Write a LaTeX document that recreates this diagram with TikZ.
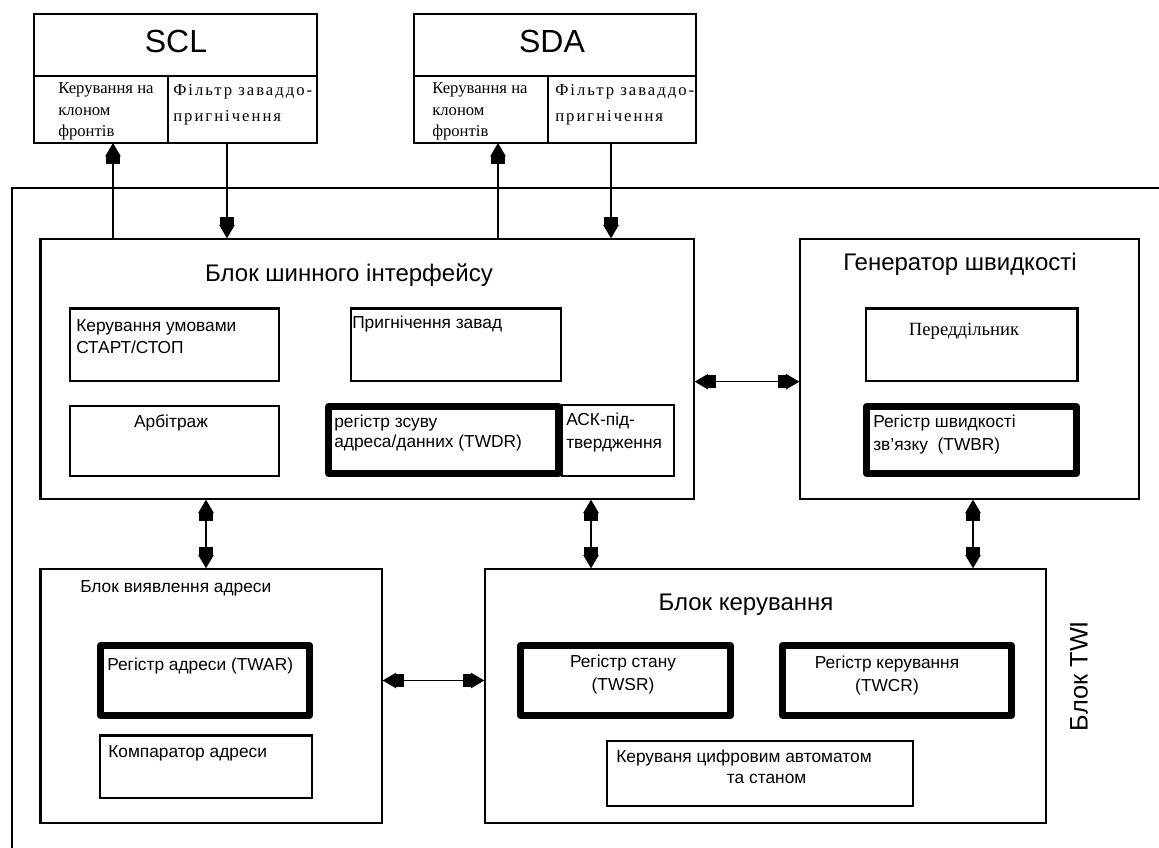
\documentclass[tikz,border=0pt]{standalone}
\usepackage{fontspec}
\setmainfont{Liberation Sans}
\newfontfamily\cellfont{Liberation Serif}
\newfontfamily\cellfontwide[LetterSpace=12]{Liberation Serif}
\usetikzlibrary{arrows.meta}

\newcommand{\pinfont}{\fontsize{24}{28}\selectfont}
\newcommand{\titlefont}{\fontsize{18}{21}\selectfont}
\newcommand{\smallfont}{\fontsize{13}{16.5}\selectfont}

\tikzset{
  box/.style 2 args={shape=rectangle, draw=black, line width=1pt, inner sep=0pt,
    minimum width=#1*0.75pt, minimum height=#2*0.75pt},
  reg/.style 2 args={box={#1}{#2}, line width=5pt, line join=round},
  txt/.style={inner sep=0pt, font=\smallfont, align=left},
  wire/.style={line width=1pt,
    -{Rectangle[length=6pt,width=10pt]Triangle[length=10pt,width=11.5pt]}},
  biwire/.style={line width=1pt,
    {Triangle[length=10pt,width=11.5pt]Rectangle[length=6pt,width=10pt]}-{Rectangle[length=6pt,width=10pt]Triangle[length=10pt,width=11.5pt]}},
}

\begin{document}
\begin{tikzpicture}[x=0.75pt, y=-0.75pt]
    \useasboundingbox (0,0) rectangle (1159,848);
    \clip (0,0) rectangle (1159,848);

    % TWI frame (runs off the page to the right and below)
    \node[box={1178}{682}] (twi) at (601,529) {};
    \node[font=\fontsize{19}{22}\selectfont, rotate=90, inner sep=0pt] (twilabel) at (1079,676) {Блок TWI};

    % pins
    \node[box={283}{62}] (scl) at (175.5,45) {};
    \node[box={134}{67}] (sclslew) at (101,109.5) {};
    \node[box={149}{67}] (sclfilt) at (242.5,109.5) {};
    \node[font=\pinfont, inner sep=0pt, anchor=base] (scltext) at (176,53) {SCL};
    \node[txt, font=\cellfont\fontsize{12.5}{16}\selectfont, anchor=north west] (sclslewtext) at (58,78.6) {\strut Керування на\\клоном\\фронтів};
    \node[txt, font=\cellfontwide\fontsize{12.5}{20}\selectfont, anchor=north west] (sclfilttext) at (173,76.3) {\strut Фільтр заваддо-\\пригнічення};

    \node[box={282}{62}] (sda) at (555,45) {};
    \node[box={134}{67}] (sdaslew) at (481,109.5) {};
    \node[box={148}{67}] (sdafilt) at (622,109.5) {};
    \node[font=\pinfont, inner sep=0pt, anchor=base] (sdatext) at (552,53) {SDA};
    \node[txt, font=\cellfont\fontsize{12.5}{16}\selectfont, anchor=north west] (sdaslewtext) at (432,78.6) {\strut Керування на\\клоном\\фронтів};
    \node[txt, font=\cellfontwide\fontsize{12.5}{20}\selectfont, anchor=north west] (sdafilttext) at (555,76.3) {\strut Фільтр заваддо-\\пригнічення};

    % bus interface
    \node[box={653}{260}] (bus) at (367.5,369) {};
    \draw[line width=2.5pt] (bus.north west) -- (bus.south west);
    \node[font=\titlefont, inner sep=0pt, anchor=base] (bustitle) at (349,282) {Блок шинного інтерфейсу};
    \node[box={209}{72}] (startstop) at (174.5,345) {};
    \draw[line width=2pt] (startstop.north west) -- (startstop.north east);
    \node[txt, anchor=north west] (startstoptext) at (76,315.6) {\strut Керування умовами\\СТАРТ/СТОП};
    \node[box={210}{72}] (supp) at (456,345) {};
    \draw[line width=2pt] (supp.north west) -- (supp.north east);
    \node[txt, anchor=base west] (supptext) at (352,329) {Пригнічення завад};
    \node[box={209}{70}] (arb) at (174.5,441) {};
    \node[txt, anchor=base] (arbtext) at (171,427) {Арбітраж};
    \node[box={112}{71}] (ack) at (618,440.5) {};
    \node[txt, font=\fontsize{13}{17.25}\selectfont, anchor=north west] (acktext) at (566,408.9) {\strut АСК-під-\\твердження};
    \node[reg={230}{67}] (twdr) at (443.5,440) {};
    \node[txt, font=\fontsize{13}{15}\selectfont, anchor=north west] (twdrtext) at (334,413) {\strut регістр зсуву\\адреса/данних (TWDR)};

    % rate generator
    \node[box={339}{260}] (gen) at (969.5,369) {};
    \node[font=\titlefont, inner sep=0pt, anchor=base] (gentitle) at (960,271) {Генератор швидкості};
    \node[box={211}{72}] (presc) at (971.5,345) {};
    \draw[line width=2pt] (presc.north west) -- (presc.north east) -- (presc.south east);
    \node[font=\cellfont\fontsize{14}{16}\selectfont, inner sep=0pt, anchor=base] (presctext) at (964,335) {Переддільник};
    \node[reg={210}{67}] (twbr) at (971.5,440) {};
    \node[txt, font=\fontsize{13}{17.25}\selectfont, anchor=north west] (twbrtext) at (873,410.9) {\strut Регістр швидкості\\зв'язку~~(TWBR)};

    % address match
    \node[box={341}{254}] (addr) at (211.5,696) {};
    \draw[line width=2.5pt] (addr.north west) -- (addr.south west);
    \node[txt, anchor=base west] (addrtitle) at (80,592) {Блок виявлення адреси};
    \node[reg={209}{70}] (twar) at (205,680.5) {};
    \node[txt, anchor=base west] (twartext) at (107,670) {Регістр адреси (TWAR)};
    \node[box={212}{62}] (cmp) at (206,767) {};
    \draw[line width=2pt] (cmp.north west) -- (cmp.north east);
    \node[txt, anchor=base west] (cmptext) at (108,757) {Компаратор адреси};

    % control unit
    \node[box={561}{254}] (ctrl) at (765.5,696) {};
    \node[font=\titlefont, inner sep=0pt, anchor=base] (ctrltitle) at (746,610) {Блок керування};
    \node[reg={210}{70}] (twsr) at (625.5,680.5) {};
    \node[txt, align=center, font=\fontsize{13}{17.25}\selectfont, anchor=north] (twsrtext) at (623,650.9) {\strut Регістр стану\\(TWSR)};
    \node[reg={229}{70}] (twcr) at (897,680.5) {};
    \node[txt, align=center, font=\fontsize{13}{17.25}\selectfont, anchor=north] (twcrtext) at (887,651.9) {\strut Регістр керування\\(TWCR)};
    \node[box={306}{65}] (fsm) at (760,773.5) {};
    \node[txt, font=\fontsize{13}{15.75}\selectfont, anchor=north west] (fsmtext) at (616,747.3) {\strut Керуваня цифровим автоматом\\\hspace*{83pt}та станом};

    % ports on the pin boxes and taps between the blocks
    \coordinate (sclout) at (113,143);
    \coordinate (sclin) at (227,143);
    \coordinate (sdaout) at (498,143);
    \coordinate (sdain) at (611,143);
    \coordinate (addrtap) at (206,534);
    \coordinate (ctrltap) at (591,534);
    \coordinate (gentap) at (973,534);

    \path[wire] (bus.north -| sclout) edge (sclout);
    \path[wire] (sclin) edge (bus.north -| sclin);
    \path[wire] (bus.north -| sdaout) edge (sdaout);
    \path[wire] (sdain) edge (bus.north -| sdain);

    \path[biwire] (bus.east |- presc.south) edge (gen.west |- presc.south);
    \path[biwire] (bus.south -| addrtap) edge (addr.north -| addrtap);
    \path[biwire] (bus.south -| ctrltap) edge (ctrl.north -| ctrltap);
    \path[biwire] (gen.south -| gentap) edge (ctrl.north -| gentap);
    \path[biwire] (addr.east |- twar.east) edge (ctrl.west |- twar.east);

\end{tikzpicture}
\end{document}
